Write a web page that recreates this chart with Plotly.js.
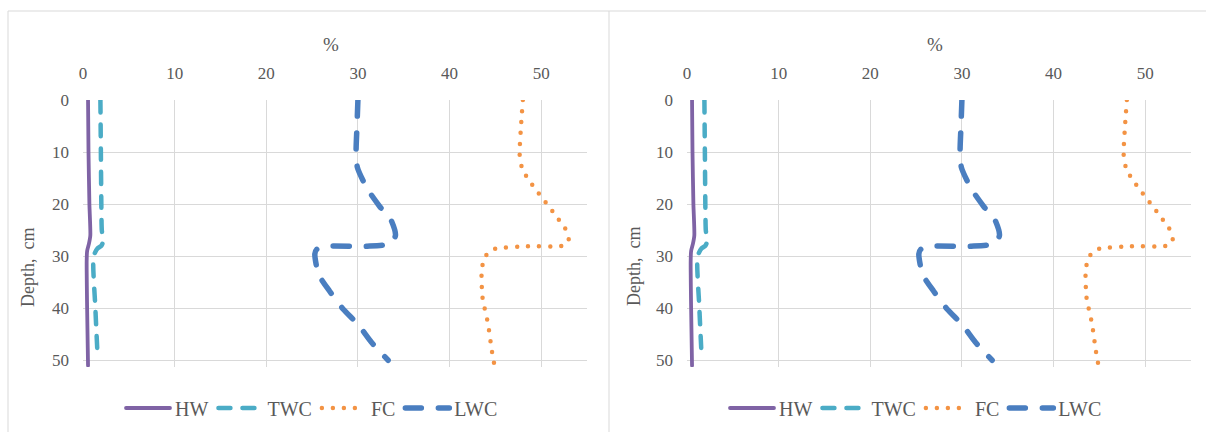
<!DOCTYPE html>
<html>
<head>
<meta charset="utf-8">
<script src="https://cdn.plot.ly/plotly-3.0.1.min.js"></script>
<style>
  html, body { margin: 0; padding: 0; background: #ffffff; }
  #chart { width: 1206px; height: 432px; }
  path.js-line { stroke-linecap: round !important; stroke-linejoin: round !important; }
</style>
</head>
<body>
<div id="chart"></div>
<script>
// ---- Data; depth in cm, values in % ----
const seriesNames = ["HW", "TWC", "FC", "LWC"];

const hwDepth = [0, 10, 20, 26, 27.6, 29, 31, 40, 51];
const hwValue = [0.55, 0.6, 0.7, 0.8, 0.65, 0.45, 0.4, 0.45, 0.55];

const twcDepth = [0, 10, 20, 25, 27.2, 28, 28.5, 30, 40, 49.5];
const twcValue = [1.9, 1.95, 2.0, 2.05, 2.2, 2.0, 1.6, 1.15, 1.35, 1.6];

const fcDepth = [0, 5, 10.5, 13, 15, 17.2, 19, 20.8, 22.7, 24.6, 27, 28, 28.1, 28.7, 30.3, 33, 38, 43, 48, 51];
const fcValue = [48.0, 47.8, 47.65, 47.9, 48.5, 49.4, 50.2, 51.0, 51.8, 52.6, 53.0, 52.3, 48.5, 44.7, 43.8, 43.5, 43.6, 44.2, 44.6, 44.9];

const lwcDepth = [0, 5, 10, 13, 17, 20.5, 23, 26, 27.6, 28.1, 28.1, 28.7, 29.6, 33.5, 36.7, 40.2, 43.1, 46.6, 50];
const lwcValue = [30.0, 29.9, 29.8, 29.95, 31.0, 32.4, 33.6, 34.1, 33.6, 31.0, 26.5, 25.5, 25.3, 25.7, 26.9, 28.4, 30.0, 31.5, 33.3];

const xTicks = [0, 10, 20, 30, 40, 50];
const yTicks = [0, 10, 20, 30, 40, 50];

// ---- Styling ----
const txt = "#595959";
const grid = "#d9d9d9";
const fontFam = "Liberation Serif, Times New Roman, serif";

const styles = {
  HW:  { color: "#7F63A5", width: 3.8, dash: "solid" },
  TWC: { color: "#4BACC6", width: 4.5, dash: "12px,12px" },
  FC:  { color: "#F39344", width: 4.5, dash: "0px,11px" },
  LWC: { color: "#4A7EC0", width: 5.5, dash: "16px,17px" }
};
const dataSets = {
  HW: [hwValue, hwDepth],
  TWC: [twcValue, twcDepth],
  FC: [fcValue, fcDepth],
  LWC: [lwcValue, lwcDepth]
};

function panelTraces(xa, ya, legendId) {
  return seriesNames.map(n => ({
    type: "scatter",
    mode: "lines",
    name: n,
    x: dataSets[n][0],
    y: dataSets[n][1],
    xaxis: xa,
    yaxis: ya,
    legend: legendId,
    line: { color: styles[n].color, width: styles[n].width, dash: styles[n].dash, shape: "spline", smoothing: 0.6 },
    hoverinfo: "x+y+name"
  }));
}

const traces = [].concat(panelTraces("x", "y", "legend"), panelTraces("x2", "y2", "legend2"));

const W = 1206, H = 432;
const yTop = 1 - 100 / H, yBot = 1 - 367 / H;

function xAxis(domain, anchor) {
  return {
    domain: domain, anchor: anchor, side: "top",
    range: [0, 55], tickvals: xTicks, ticktext: xTicks.map(String),
    showgrid: true, gridcolor: grid, gridwidth: 1,
    zeroline: false, showline: false, ticks: "",
    ticklabelstandoff: 17,
    tickfont: { family: fontFam, size: 17, color: txt },
    fixedrange: true
  };
}
function yAxis(anchor) {
  return {
    domain: [yBot, yTop], anchor: anchor,
    range: [51.3, 0], tickvals: yTicks, ticktext: yTicks.map(String),
    showgrid: true, gridcolor: grid, gridwidth: 1,
    zeroline: false, showline: false, ticks: "",
    ticklabelstandoff: 13,
    tickfont: { family: fontFam, size: 17, color: txt },
    fixedrange: true
  };
}

const legendBase = {
  orientation: "h", yanchor: "middle", xanchor: "left",
  y: 1 - 408 / H,
  font: { family: fontFam, size: 20, color: txt },
  itemwidth: 44, bgcolor: "rgba(0,0,0,0)", borderwidth: 0,
  itemclick: false, itemdoubleclick: false
};

const layout = {
  width: W, height: H,
  margin: { l: 0, r: 0, t: 0, b: 0 },
  paper_bgcolor: "#ffffff",
  plot_bgcolor: "rgba(0,0,0,0)",
  showlegend: true,
  xaxis: xAxis([83 / W, 587 / W], "y"),
  yaxis: yAxis("x"),
  xaxis2: xAxis([687 / W, 1191 / W], "y2"),
  yaxis2: yAxis("x2"),
  legend: Object.assign({}, legendBase, { x: 121 / W }),
  legend2: Object.assign({}, legendBase, { x: 725 / W }),
  shapes: [
    { type: "line", xref: "paper", yref: "paper", x0: 8 / W, x1: 1, y0: 1 - 11 / H, y1: 1 - 11 / H, line: { color: "#d9d9d9", width: 1 } },
    { type: "line", xref: "paper", yref: "paper", x0: 8 / W, x1: 8 / W, y0: 0, y1: 1 - 11 / H, line: { color: "#d9d9d9", width: 1 } },
    { type: "line", xref: "paper", yref: "paper", x0: 609 / W, x1: 609 / W, y0: 0, y1: 1 - 11 / H, line: { color: "#d9d9d9", width: 1 } }
  ],
  annotations: [
    { text: "%", xref: "paper", yref: "paper", x: 331 / W, y: 1 - 45 / H, showarrow: false, xanchor: "center", yanchor: "middle", font: { family: fontFam, size: 19, color: txt } },
    { text: "%", xref: "paper", yref: "paper", x: 935 / W, y: 1 - 45 / H, showarrow: false, xanchor: "center", yanchor: "middle", font: { family: fontFam, size: 19, color: txt } },
    { text: "Depth,  cm", textangle: -90, xref: "paper", yref: "paper", x: 28 / W, y: 1 - 267 / H, showarrow: false, xanchor: "center", yanchor: "middle", font: { family: fontFam, size: 18, color: txt } },
    { text: "Depth,  cm", textangle: -90, xref: "paper", yref: "paper", x: 634 / W, y: 1 - 267 / H, showarrow: false, xanchor: "center", yanchor: "middle", font: { family: fontFam, size: 18, color: txt } }
  ]
};

Plotly.newPlot("chart", traces, layout, { displayModeBar: false, staticPlot: true });
</script>
</body>
</html>
